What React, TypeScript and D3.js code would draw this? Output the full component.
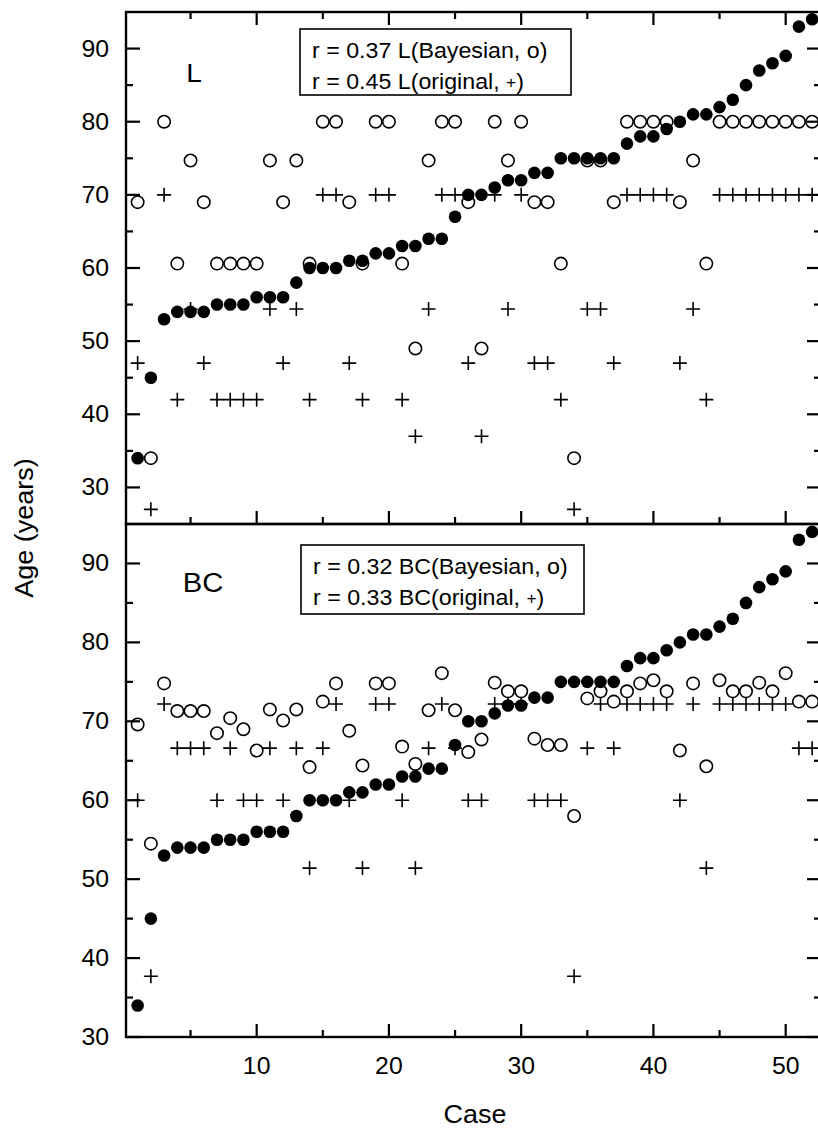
import React, { useEffect, useRef } from 'react';
import * as d3 from 'd3';

// actual age per case (filled dots, same in both panels)
const actualAge = [34, 45, 53, 54, 54, 54, 55, 55, 55, 56, 56, 56, 58, 60, 60, 60, 61, 61, 62, 62,
  63, 63, 64, 64, 67, 70, 70, 71, 72, 72, 73, 73, 75, 75, 75, 75, 75, 77, 78, 78,
  79, 80, 81, 81, 82, 83, 85, 87, 88, 89, 93, 94];

// L panel
const lBayesian = [69, 34, 80, 60.6, 74.7, 69, 60.6, 60.6, 60.6, 60.6, 74.7, 69, 74.7, 60.6, 80, 80, 69, 60.6, 80, 80,
  60.6, 49, 74.7, 80, 80, 69, 49, 80, 74.7, 80, 69, 69, 60.6, 34, 74.7, 74.7, 69, 80, 80, 80,
  80, 69, 74.7, 60.6, 80, 80, 80, 80, 80, 80, 80, 80];
const lOriginal = [47, 27, 70, 42, 54.4, 47, 42, 42, 42, 42, 54.4, 47, 54.4, 42, 70, 70, 47, 42, 70, 70,
  42, 37, 54.4, 70, 70, 47, 37, 70, 54.4, 70, 47, 47, 42, 27, 54.4, 54.4, 47, 70, 70, 70,
  70, 47, 54.4, 42, 70, 70, 70, 70, 70, 70, 70, 70];

// BC panel
const bcBayesian = [69.6, 54.5, 74.8, 71.3, 71.3, 71.3, 68.5, 70.4, 69, 66.3, 71.5, 70.1, 71.5, 64.2, 72.5, 74.8, 68.8, 64.4, 74.8, 74.8,
  66.8, 64.6, 71.4, 76.1, 71.4, 66.1, 67.7, 74.9, 73.8, 73.8, 67.8, 67, 67, 58, 72.9, 73.8, 72.5, 73.8, 74.8, 75.2,
  73.8, 66.3, 74.8, 64.3, 75.2, 73.8, 73.8, 74.9, 73.8, 76.1, 72.5, 72.5];
const bcOriginal = [60, 37.7, 72.2, 66.6, 66.6, 66.6, 60, 66.6, 60, 60, 66.6, 60, 66.6, 51.4, 66.6, 72.2, 60, 51.4, 72.2, 72.2,
  60, 51.4, 66.6, 72.2, 66.6, 60, 60, 72.2, 72.2, 72.2, 60, 60, 60, 37.7, 66.6, 72.2, 66.6, 72.2, 72.2, 72.2,
  72.2, 60, 72.2, 51.4, 72.2, 72.2, 72.2, 72.2, 72.2, 72.2, 66.6, 66.6];

const xTicks = [10, 20, 30, 40, 50];
const xMinorTicks = [5, 15, 25, 35, 45];
const yTicks = [30, 40, 50, 60, 70, 80, 90];
const yMinorTicks = [35, 45, 55, 65, 75, 85];

const FONT = '"Liberation Sans", Arial, Helvetica, sans-serif';
const W = 818;
const H = 1128;
const LEFT = 126;
const RIGHT = 821;

const panels = [
  {
    name: 'L', top: 12, bottom: 524, domain: [25, 95], bayes: lBayesian, orig: lOriginal,
    labelPos: [194, 82], labelSize: 26,
    box: { x: 300, y: 29, w: 271, h: 66 }, lines: ['r = 0.37 L(Bayesian, o)', 'r = 0.45 L(original, '],
  },
  {
    name: 'BC', top: 524, bottom: 1037, domain: [30, 95], bayes: bcBayesian, orig: bcOriginal,
    labelPos: [203, 592], labelSize: 27,
    box: { x: 301, y: 545, w: 283, h: 69 }, lines: ['r = 0.32 BC(Bayesian, o)', 'r = 0.33 BC(original, '],
  },
];

const App = () => {
  const svgRef = useRef<SVGSVGElement>(null);

  useEffect(() => {
    const svg = d3.select(svgRef.current);
    svg.selectAll('*').remove();

    const x = d3.scaleLinear().domain([0.12, 52.67]).range([LEFT, RIGHT]);

    // text in the original is a bit wider than Arial
    const label = (g, px, py, str, size, anchor = 'start') =>
      g.append('text')
        .attr('transform', `translate(${px},${py}) scale(1.08,1)`)
        .attr('text-anchor', anchor)
        .style('font-family', FONT)
        .style('font-size', `${size}px`)
        .attr('fill', '#000')
        .text(str);

    panels.forEach((p, pi) => {
      const y = d3.scaleLinear().domain(p.domain).range([p.bottom, p.top]);
      const g = svg.append('g');

      // open circles (Bayesian)
      g.selectAll('.bayes')
        .data(p.bayes)
        .enter()
        .append('circle')
        .attr('cx', (d, i) => x(i + 1))
        .attr('cy', d => y(d))
        .attr('r', 6.2)
        .attr('fill', '#fff')
        .attr('stroke', '#000')
        .attr('stroke-width', 1.6);

      // plus (original)
      g.selectAll('.orig')
        .data(p.orig)
        .enter()
        .append('path')
        .attr('d', (d, i) => {
          const cx = x(i + 1);
          const cy = y(d);
          return `M${cx - 7},${cy}H${cx + 7}M${cx},${cy - 7}V${cy + 7}`;
        })
        .attr('stroke', '#000')
        .attr('stroke-width', 1.6)
        .attr('fill', 'none');

      // filled dots (actual age)
      g.selectAll('.actual')
        .data(actualAge)
        .enter()
        .append('circle')
        .attr('cx', (d, i) => x(i + 1))
        .attr('cy', d => y(d))
        .attr('r', 6.3)
        .attr('fill', '#000');

      // y ticks, left and right, pointing inward
      yTicks.forEach(t => {
        g.append('line').attr('x1', LEFT).attr('x2', LEFT + 14).attr('y1', y(t)).attr('y2', y(t))
          .attr('stroke', '#000').attr('stroke-width', 2.2);
        g.append('line').attr('x1', RIGHT - 14).attr('x2', RIGHT).attr('y1', y(t)).attr('y2', y(t))
          .attr('stroke', '#000').attr('stroke-width', 2.2);
        label(g, 109, y(t) + 8, String(t), 23, 'end');
      });
      yMinorTicks.forEach(t => {
        g.append('line').attr('x1', LEFT).attr('x2', LEFT + 7).attr('y1', y(t)).attr('y2', y(t))
          .attr('stroke', '#000').attr('stroke-width', 2.2);
        g.append('line').attr('x1', RIGHT - 7).attr('x2', RIGHT).attr('y1', y(t)).attr('y2', y(t))
          .attr('stroke', '#000').attr('stroke-width', 2.2);
      });

      // x ticks on bottom edge pointing up
      xTicks.forEach(t => {
        g.append('line').attr('x1', x(t)).attr('x2', x(t)).attr('y1', p.bottom).attr('y2', p.bottom - 13)
          .attr('stroke', '#000').attr('stroke-width', 2.2);
      });
      xMinorTicks.forEach(t => {
        g.append('line').attr('x1', x(t)).attr('x2', x(t)).attr('y1', p.bottom).attr('y2', p.bottom - 7)
          .attr('stroke', '#000').attr('stroke-width', 2.2);
      });
      // top edge ticks pointing down (top panel only)
      if (pi === 0) {
        xTicks.forEach(t => {
          g.append('line').attr('x1', x(t)).attr('x2', x(t)).attr('y1', p.top).attr('y2', p.top + 13)
            .attr('stroke', '#000').attr('stroke-width', 2.2);
        });
        xMinorTicks.forEach(t => {
          g.append('line').attr('x1', x(t)).attr('x2', x(t)).attr('y1', p.top).attr('y2', p.top + 7)
            .attr('stroke', '#000').attr('stroke-width', 2.2);
        });
      }

      // frame
      g.append('rect')
        .attr('x', LEFT).attr('y', p.top)
        .attr('width', RIGHT - LEFT).attr('height', p.bottom - p.top)
        .attr('fill', 'none').attr('stroke', '#000').attr('stroke-width', 2.4);

      // panel name
      label(g, p.labelPos[0], p.labelPos[1], p.name, p.labelSize, 'middle');

      // legend box
      g.append('rect')
        .attr('x', p.box.x).attr('y', p.box.y).attr('width', p.box.w).attr('height', p.box.h)
        .attr('fill', '#fff').attr('stroke', '#000').attr('stroke-width', 1.6);
      label(g, p.box.x + 12, p.box.y + 29, p.lines[0], 21.5);
      const l2 = label(g, p.box.x + 12, p.box.y + 60, p.lines[1], 21.5);
      l2.append('tspan').style('font-size', '16px').attr('dy', -1).text('+');
      l2.append('tspan').attr('dy', 1).text(')');
    });

    // x tick labels
    xTicks.forEach(t => {
      label(svg, x(t), 1074, String(t), 23, 'middle');
    });

    // axis titles
    label(svg, 475, 1123, 'Case', 25, 'middle');
    svg.append('text')
      .attr('transform', 'translate(33,528) rotate(-90) scale(1.08,1)')
      .attr('text-anchor', 'middle')
      .style('font-family', FONT)
      .style('font-size', '25px')
      .text('Age (years)');
  }, []);

  return (
    <svg ref={svgRef} width={W} height={H}
      style={{ position: 'absolute', left: 0, top: 0, background: '#fff', display: 'block' }} />
  );
};

export default App;
